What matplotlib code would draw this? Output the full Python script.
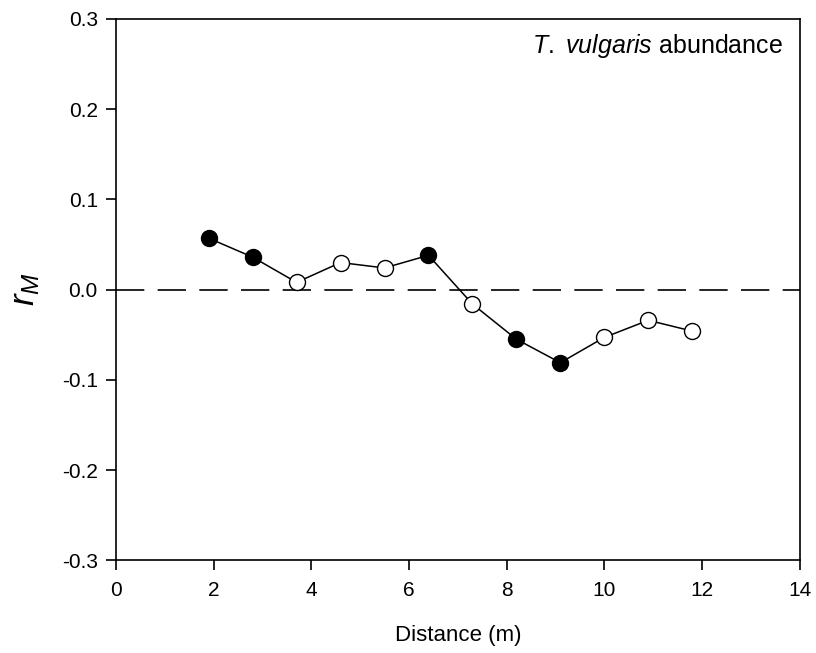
import matplotlib
matplotlib.use("Agg")
import matplotlib.pyplot as plt

plt.rcParams['font.family'] = ['Liberation Sans', 'DejaVu Sans']
plt.rcParams['mathtext.fontset'] = 'custom'
plt.rcParams['mathtext.rm'] = 'Liberation Sans'
plt.rcParams['mathtext.it'] = 'Liberation Sans:italic'

distance = [1.9, 2.8, 3.7, 4.6, 5.5, 6.4, 7.3, 8.2, 9.1, 10.0, 10.9, 11.8]
r_m = [0.057, 0.036, 0.008, 0.030, 0.024, 0.038, -0.016, -0.055, -0.081, -0.053, -0.034, -0.046]
significant = [True, True, False, False, False, True, False, True, True, False, False, False]
xticks = [0, 2, 4, 6, 8, 10, 12, 14]
yticks = [-0.3, -0.2, -0.1, 0.0, 0.1, 0.2, 0.3]

fig = plt.figure(figsize=(8.16, 6.53), dpi=100)
ax = fig.add_axes([0.142, 0.142, 0.838, 0.829])

ax.axhline(0, color='black', lw=1.2, dashes=(17, 8), zorder=1)
ax.plot(distance, r_m, color='black', lw=1.1, zorder=2)
for x, y, s in zip(distance, r_m, significant):
    ax.plot(x, y, 'o', ms=11.5, mec='black', mew=1.0,
            mfc='black' if s else 'white', zorder=3)

ax.set_xlim(0, 14)
ax.set_ylim(-0.3, 0.3)
ax.set_xticks(xticks)
ax.set_yticks(yticks)
ax.set_xticklabels([str(t) for t in xticks])
ax.set_yticklabels([f"{t:.1f}" for t in yticks])
ax.tick_params(direction='out', length=7, width=1.2, labelsize=15, pad=6,
               top=False, right=False)
ax.tick_params(axis='x', pad=8)
for sp in ax.spines.values():
    sp.set_linewidth(1.2)

ax.set_xlabel('Distance (m)', fontsize=16, labelpad=18)
ax.set_ylabel(r'$r_M$', fontsize=25, labelpad=14)
ax.text(0.975, 0.975, r'$T.$ $vulgaris$ abundance', transform=ax.transAxes,
        ha='right', va='top', fontsize=18)

fig.savefig('out.png', dpi=100)
